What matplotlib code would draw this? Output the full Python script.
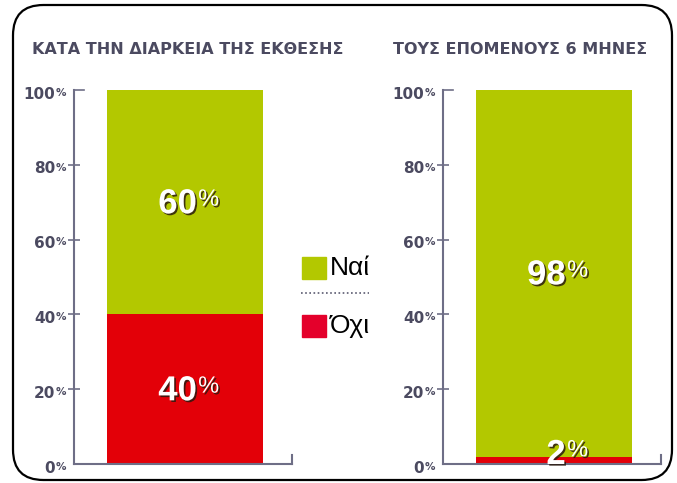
import matplotlib
matplotlib.use("Agg")
import matplotlib.pyplot as plt
import matplotlib.patheffects as pe
from matplotlib.patches import FancyBboxPatch, Rectangle
from matplotlib.lines import Line2D

# data
titles = ["ΚΑΤΑ ΤΗΝ ΔΙΑΡΚΕΙΑ ΤΗΣ ΕΚΘΕΣΗΣ", "ΤΟΥΣ ΕΠΟΜΕΝΟΥΣ 6 ΜΗΝΕΣ"]
yes_vals = [60, 98]
no_vals = [40, 2]
legend_labels = ["Ναί", "Όχι"]
yticks = [0, 20, 40, 60, 80, 100]

green = "#b3c800"
red = "#e30008"
txt_col = "#4b4a60"
axis_col = "#6e6e86"

fig = plt.figure(figsize=(6.77, 4.83), dpi=100)

# rounded frame
frame = FancyBboxPatch((13 / 677, 3 / 483), 659 / 677, 475 / 483,
                       boxstyle="round,pad=0,rounding_size=0.045",
                       transform=fig.transFigure, fill=False, ec="black", lw=1.6,
                       mutation_aspect=677 / 483)
fig.patches.append(frame)

lefts = [74 / 677, 443 / 677]
w = 218 / 677
bot = 1 - 464 / 483
h = 374 / 483
title_x = [188, 520]

shadow = [pe.SimplePatchShadow(offset=(1.2, -1.2), shadow_rgbFace="#2a1a10", alpha=0.85), pe.Normal()]

for i in range(2):
    ax = fig.add_axes([lefts[i], bot, w, h])
    ax.bar(0.509, no_vals[i], width=0.716, color=red, zorder=2)
    ax.bar(0.509, yes_vals[i], width=0.716, bottom=no_vals[i], color=green, zorder=2)
    ax.set_xlim(0, 1)
    ax.set_ylim(0, 100)
    for s in ["top", "right"]:
        ax.spines[s].set_visible(False)
    for s in ["left", "bottom"]:
        ax.spines[s].set_color(axis_col)
        ax.spines[s].set_linewidth(1.5)
    ax.set_xticks([])
    ax.set_yticks([20, 40, 60, 80])
    ax.set_yticklabels([])
    ax.tick_params(axis="y", direction="inout", length=9, width=1.2, color=axis_col)
    # bracket at top, small tick at right end
    ax.plot([0, 0.045], [100, 100], color=axis_col, lw=1.2, clip_on=False)
    ax.plot([1, 1], [0, 2.4], color=axis_col, lw=1.5, clip_on=False)

    for v in yticks:
        ax.annotate(str(v), (0, v), xytext=(-13.5, -3), textcoords="offset points",
                    ha="right", va="center", fontsize=11, fontweight="bold", color=txt_col)
        ax.annotate("%", (0, v), xytext=(-5.5, -2), textcoords="offset points",
                    ha="right", va="center", fontsize=7.5, fontweight="bold", color=txt_col)

    # value labels
    segs = [(no_vals[i], 0), (yes_vals[i], no_vals[i])]
    for val, b in segs:
        if val >= 10:
            y = b + val / 2
            dy = -8
        else:
            y = 0
            dy = 0
        t1 = ax.annotate(str(val), (0.509, y), xytext=(8.5, dy), textcoords="offset points",
                         ha="right", va="baseline", fontsize=25, fontweight="bold",
                         family="Liberation Sans", color="white", zorder=5)
        t1.set_path_effects(shadow)
        t2 = ax.annotate("%", (0.509, y), xytext=(9.5, dy + 5.5), textcoords="offset points",
                         ha="left", va="baseline", fontsize=17,
                         family="Liberation Sans", color="white", zorder=5)
        t2.set_path_effects(shadow)

    fig.text(title_x[i] / 677, 1 - 50 / 483, titles[i], ha="center", va="center",
             fontsize=11.5, fontweight="bold", color=txt_col)

# legend
leg_cols = [green, "#e4002b"]
leg_y = [268, 326]
for c, yy, lab in zip(leg_cols, leg_y, legend_labels):
    fig.patches.append(Rectangle((302 / 677, 1 - (yy + 11) / 483), 24 / 677, 22 / 483,
                                 transform=fig.transFigure, color=c))
    fig.text(330 / 677, 1 - yy / 483, lab, ha="left", va="center", fontsize=19,
             color="black", family="Liberation Sans")
fig.lines.append(Line2D([301 / 677, 369 / 677], [1 - 293 / 483, 1 - 293 / 483],
                        transform=fig.transFigure, color="#5a5a70", lw=1.2, ls=(0, (1, 1.5))))

fig.savefig("out.png", dpi=100)
